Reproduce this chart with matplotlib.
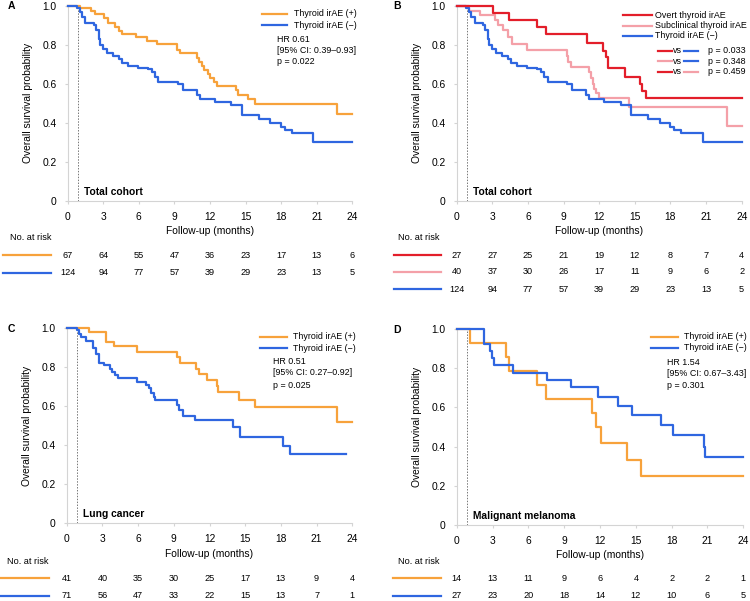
import matplotlib.pyplot as plt
from matplotlib.lines import Line2D
from matplotlib.transforms import blended_transform_factory

plt.rcParams['font.family'] = ['Liberation Sans', 'DejaVu Sans']

ORANGE = '#F7A23B'
BLUE = '#2F66E0'
RED = '#E31E2A'
PINK = '#F4A0A8'

# survival curves (time in months, survival after step)
a_pos_t = [0, 1.0, 2.0, 2.3, 3.1, 3.4, 4.0, 4.3, 4.6, 5.8, 6.7, 7.5, 9.2, 9.5, 10.9, 11.1, 11.3,
           11.5, 11.8, 12.0, 12.3, 12.6, 14.2, 14.4, 15.2, 15.8, 22.7, 24]
a_pos_s = [1.0, 0.99, 0.975, 0.957, 0.935, 0.913, 0.89, 0.87, 0.855, 0.838, 0.82, 0.806, 0.775, 0.755,
           0.73, 0.71, 0.69, 0.67, 0.65, 0.63, 0.61, 0.588, 0.57, 0.542, 0.52, 0.494, 0.443, 0.443]

total_neg_t = [0, 0.8, 1.0, 1.2, 1.5, 2.2, 2.4, 2.6, 2.75, 3.0, 3.3, 3.85, 4.3, 4.55, 5.1, 5.95, 6.8,
               7.1, 7.35, 7.65, 9.3, 9.75, 10.9, 11.15, 12.4, 13.8, 14.7, 16.1, 17.1, 18.0, 18.3,
               18.9, 20.7, 24]
total_neg_s = [1.0, 0.99, 0.97, 0.94, 0.913, 0.90, 0.875, 0.83, 0.80, 0.78, 0.755, 0.74, 0.725, 0.705,
               0.693, 0.683, 0.673, 0.66, 0.635, 0.61, 0.598, 0.567, 0.542, 0.52, 0.508, 0.49, 0.437,
               0.42, 0.40, 0.38, 0.365, 0.345, 0.30, 0.30]

b_overt_t = [0, 3.05, 4.4, 6.8, 7.5, 10.95, 12.35, 12.55, 12.75, 14.2, 15.45, 15.6, 15.9, 24]
b_overt_s = [1.0, 0.963, 0.926, 0.89, 0.853, 0.81, 0.77, 0.735, 0.68, 0.635, 0.60, 0.565, 0.525, 0.525]

b_sub_t = [0, 1.0, 2.0, 3.2, 3.5, 3.9, 4.3, 4.65, 5.9, 9.25, 9.4, 9.6, 11.1, 11.3, 11.5, 11.6, 11.75,
           11.95, 14.5, 22.75, 24]
b_sub_s = [1.0, 0.975, 0.95, 0.925, 0.90, 0.875, 0.84, 0.805, 0.775, 0.74, 0.71, 0.685, 0.66, 0.63,
           0.60, 0.575, 0.55, 0.527, 0.48, 0.385, 0.385]

c_pos_t = [0, 1.9, 3.3, 3.95, 5.88, 9.25, 9.5, 10.9, 11.1, 11.75, 12.6, 12.75, 14.5, 15.8, 22.7, 24]
c_pos_s = [1.0, 0.979, 0.928, 0.904, 0.877, 0.85, 0.82, 0.79, 0.763, 0.733, 0.70, 0.67, 0.632, 0.593,
           0.52, 0.52]

c_neg_t = [0, 0.85, 1.0, 1.2, 1.6, 2.25, 2.45, 2.7, 3.1, 3.65, 3.8, 4.1, 4.35, 5.9, 6.7, 6.9, 7.1, 7.3,
           7.45, 9.25, 9.45, 9.75, 10.8, 14.0, 14.55, 18.2, 18.8, 23.45]
c_neg_s = [1.0, 0.99, 0.97, 0.95, 0.933, 0.895, 0.868, 0.82, 0.81, 0.79, 0.775, 0.757, 0.741, 0.724,
           0.707, 0.69, 0.665, 0.645, 0.63, 0.605, 0.579, 0.548, 0.528, 0.494, 0.44, 0.395, 0.354, 0.354]

d_pos_t = [0, 1.1, 4.15, 4.35, 6.75, 7.45, 11.3, 11.65, 12.05, 14.3, 15.4, 24]
d_pos_s = [1.0, 0.929, 0.857, 0.786, 0.714, 0.643, 0.571, 0.50, 0.417, 0.333, 0.25, 0.25]

d_neg_t = [0, 2.3, 2.8, 2.95, 3.15, 4.75, 7.6, 9.6, 11.85, 13.5, 14.7, 17.1, 18.1, 20.7, 20.8, 24]
d_neg_s = [1.0, 0.926, 0.889, 0.852, 0.815, 0.778, 0.741, 0.702, 0.655, 0.607, 0.561, 0.51, 0.459,
           0.40, 0.345, 0.345]

# numbers at risk
risk_months = [0, 3, 6, 9, 12, 15, 18, 21, 24]
a_pos_risk = [67, 64, 55, 47, 36, 23, 17, 13, 6]
total_neg_risk = [124, 94, 77, 57, 39, 29, 23, 13, 5]
b_overt_risk = [27, 27, 25, 21, 19, 12, 8, 7, 4]
b_sub_risk = [40, 37, 30, 26, 17, 11, 9, 6, 2]
c_pos_risk = [41, 40, 35, 30, 25, 17, 13, 9, 4]
c_neg_risk = [71, 56, 47, 33, 22, 15, 13, 7, 1]
d_pos_risk = [14, 13, 11, 9, 6, 4, 2, 2, 1]
d_neg_risk = [27, 23, 20, 18, 14, 12, 10, 6, 5]

W, H = 750, 601
FS = 6.4
fig = plt.figure(figsize=(7.5, 6.01), dpi=100)


def fx(px):
    return px / W


def fy(py):
    return 1 - py / H


def make_axes(left, right, top, bottom, letter, lx, ly, cohort):
    ax = fig.add_axes([fx(left), fy(bottom), (right - left) / W, (bottom - top) / H])
    ax.set_xlim(0, 24)
    ax.set_ylim(0, 1)
    ax.set_xticks(risk_months)
    ax.set_yticks([0, 0.2, 0.4, 0.6, 0.8, 1.0])
    ax.set_yticklabels(['0', '0.2', '0.4', '0.6', '0.8', '1.0'])
    for s in ['top', 'right']:
        ax.spines[s].set_visible(False)
    for s in ['left', 'bottom']:
        ax.spines[s].set_color('#d4d4d4')
        ax.spines[s].set_linewidth(0.8)
    ax.tick_params(axis='both', length=2, color='#d4d4d4', labelsize=7.4, pad=6)
    ax.set_xlabel('Follow-up (months)', fontsize=7.4, labelpad=3)
    ax.set_ylabel('Overall survival probability', fontsize=7.4, labelpad=7)
    ax.plot([0.87, 0.87], [0, 1], color='#777777', lw=0.7, ls=(0, (1.5, 1.5)))
    ax.text(1.4, 0.045, cohort, fontsize=7.4, fontweight='bold', va='center')
    fig.text(fx(lx), fy(ly), letter, fontsize=7.5, fontweight='bold', va='center', ha='left')
    return ax


def curve(ax, t, s, color):
    ax.step(t, s, where='post', color=color, lw=1.6, clip_on=False, zorder=3)


def legend(entries, x1, x2, tx, ys):
    for (color, label), py in zip(entries, ys):
        fig.add_artist(Line2D([fx(x1), fx(x2)], [fy(py), fy(py)], color=color, lw=1.6))
        fig.text(fx(tx), fy(py), label, fontsize=FS, va='center')


def stats(lines, tx, ys):
    for txt, py in zip(lines, ys):
        fig.text(fx(tx), fy(py), txt, fontsize=FS, va='center')


def risk_table(ax, tx, ty, x1, x2, rows):
    fig.text(fx(tx), fy(ty), 'No. at risk', fontsize=6.6, va='center')
    trans = blended_transform_factory(ax.transData, fig.transFigure)
    for color, counts, py in rows:
        fig.add_artist(Line2D([fx(x1), fx(x2)], [fy(py), fy(py)], color=color, lw=1.6))
        for m, n in zip(risk_months, counts):
            ax.text(m, fy(py), str(n), transform=trans, ha='center', va='center', fontsize=6.6)


pos_lbl = 'Thyroid irAE (+)'
neg_lbl = 'Thyroid irAE (\u2212)'

# A
axA = make_axes(67.7, 352.3, 5.7, 200.7, 'A', 8, 6, 'Total cohort')
curve(axA, a_pos_t, a_pos_s, ORANGE)
curve(axA, total_neg_t, total_neg_s, BLUE)
legend([(ORANGE, pos_lbl), (BLUE, neg_lbl)], 261.7, 286.7, 294, [14, 25])
stats(['HR 0.61', '[95% CI: 0.39\u20130.93]', 'p = 0.022'], 276.7, [40, 50.7, 61.7])
risk_table(axA, 10, 238, 3.3, 50.7, [(ORANGE, a_pos_risk, 255), (BLUE, total_neg_risk, 272.7)])

# B
axB = make_axes(456.7, 741.7, 5.7, 200.7, 'B', 393, 6, 'Total cohort')
curve(axB, b_sub_t, b_sub_s, PINK)
curve(axB, total_neg_t, total_neg_s, BLUE)
curve(axB, b_overt_t, b_overt_s, RED)
legend([(RED, 'Overt thyroid irAE'), (PINK, 'Subclinical thyroid irAE'), (BLUE, neg_lbl)],
       623.3, 651.7, 655, [15, 25.7, 36])
for (c1, c2, p), py in zip([(RED, BLUE, 'p = 0.033'), (PINK, BLUE, 'p = 0.348'), (RED, PINK, 'p = 0.459')],
                           [50.7, 61.3, 71.7]):
    fig.add_artist(Line2D([fx(657.7), fx(671.5)], [fy(py), fy(py)], color=c1, lw=1.6))
    fig.text(fx(673), fy(py), 'vs', fontsize=FS, va='center')
    fig.add_artist(Line2D([fx(684), fx(698.3)], [fy(py), fy(py)], color=c2, lw=1.6))
    fig.text(fx(708.3), fy(py), p, fontsize=FS, va='center')
risk_table(axB, 398.3, 238, 394, 441, [(RED, b_overt_risk, 255), (PINK, b_sub_risk, 272),
                                      (BLUE, total_neg_risk, 289.3)])

# C
axC = make_axes(66.7, 352.3, 327.7, 523.3, 'C', 8, 329, 'Lung cancer')
curve(axC, c_pos_t, c_pos_s, ORANGE)
curve(axC, c_neg_t, c_neg_s, BLUE)
legend([(ORANGE, pos_lbl), (BLUE, neg_lbl)], 260, 286.7, 292.7, [336.7, 348.3])
stats(['HR 0.51', '[95% CI: 0.27\u20130.92]', 'p = 0.025'], 272.7, [361.7, 372.3, 385])
risk_table(axC, 7.3, 561, 1, 49.3, [(ORANGE, c_pos_risk, 578.3), (BLUE, c_neg_risk, 595.7)])

# D
axD = make_axes(456.7, 743.3, 329, 525, 'D', 393, 330, 'Malignant melanoma')
curve(axD, d_pos_t, d_pos_s, ORANGE)
curve(axD, d_neg_t, d_neg_s, BLUE)
legend([(ORANGE, pos_lbl), (BLUE, neg_lbl)], 651, 678.3, 684.3, [336.7, 348])
stats(['HR 1.54', '[95% CI: 0.67\u20133.43]', 'p = 0.301'], 666.7, [362.3, 374, 386])
risk_table(axD, 398.3, 561, 393.3, 440.7, [(ORANGE, d_pos_risk, 578.3), (BLUE, d_neg_risk, 595.7)])

fig.savefig('out.png', dpi=100)
